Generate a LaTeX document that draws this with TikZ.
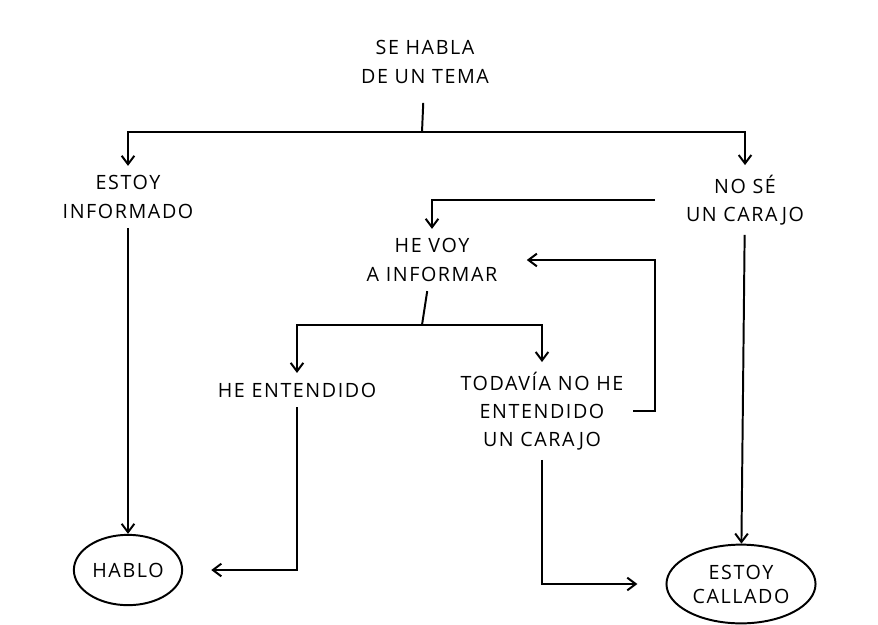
\documentclass[tikz,border=0pt]{standalone}
\usepackage{fontspec}
\setmainfont{Open Sans}[LetterSpace=8]
\usetikzlibrary{arrows.meta,shapes.geometric}

\begin{document}
\begin{tikzpicture}[x=0.025cm, y=-0.025cm, line width=1.4pt,
          txt/.style = {align=center, font=\fontsize{14}{20}\selectfont, inner sep=2pt, outer sep=5pt},
          oval/.style = {draw, ellipse, align=center, font=\fontsize{14}{17}\selectfont, inner sep=0pt},
          arr/.style = {-{Straight Barb[length=6pt,width=9pt]}}]
        \useasboundingbox (0,0) rectangle (878,624);
        \node[txt] (tema) at (425,62) {SE HABLA\\DE UN TEMA};
        \node[txt] (info) at (128,197) {ESTOY\\INFORMADO};
        \node[txt] (nose) at (745,200) {NO SÉ\\UN CARAJO};
        \node[txt] (voy) at (432,260) {HE VOY\\A INFORMAR};
        \node[txt] (ent) at (297,390) {HE ENTENDIDO};
        \node[txt] (tod) at (542,411) {TODAVÍA NO HE\\ENTENDIDO\\UN CARAJO};
        \node[oval, minimum width=77pt, minimum height=50pt] (hablo) at (128,570) {HABLO};
        \node[oval, minimum width=106pt, minimum height=56pt] (callado) at (741,584) {ESTOY\\CALLADO};
        \coordinate (split1) at (422,132);
        \coordinate (split2) at (422,325);
        \draw[shorten <=7pt] (tema) -- (split1);
        \foreach \n in {info, nose}
                 {
                   \draw[arr] (split1) -| (\n);
                 }
        \draw[arr, shorten <=15pt] (nose.west) -| (voy);
        \draw (voy) -- (split2);
        \foreach \n in {ent, tod}
                 {
                   \draw[arr] (split2) -| (\n);
                 }
        \draw[arr, shorten >=14pt] (tod.east) -- ++(22,0) |- (voy.east);
        \draw[arr] (info) -- (hablo);
        \draw[arr] (nose) -- (callado);
        \draw[arr, shorten >=20pt] (ent) |- (hablo);
        \draw[arr, shorten >=20pt] (tod) |- (callado);
\end{tikzpicture}
\end{document}
